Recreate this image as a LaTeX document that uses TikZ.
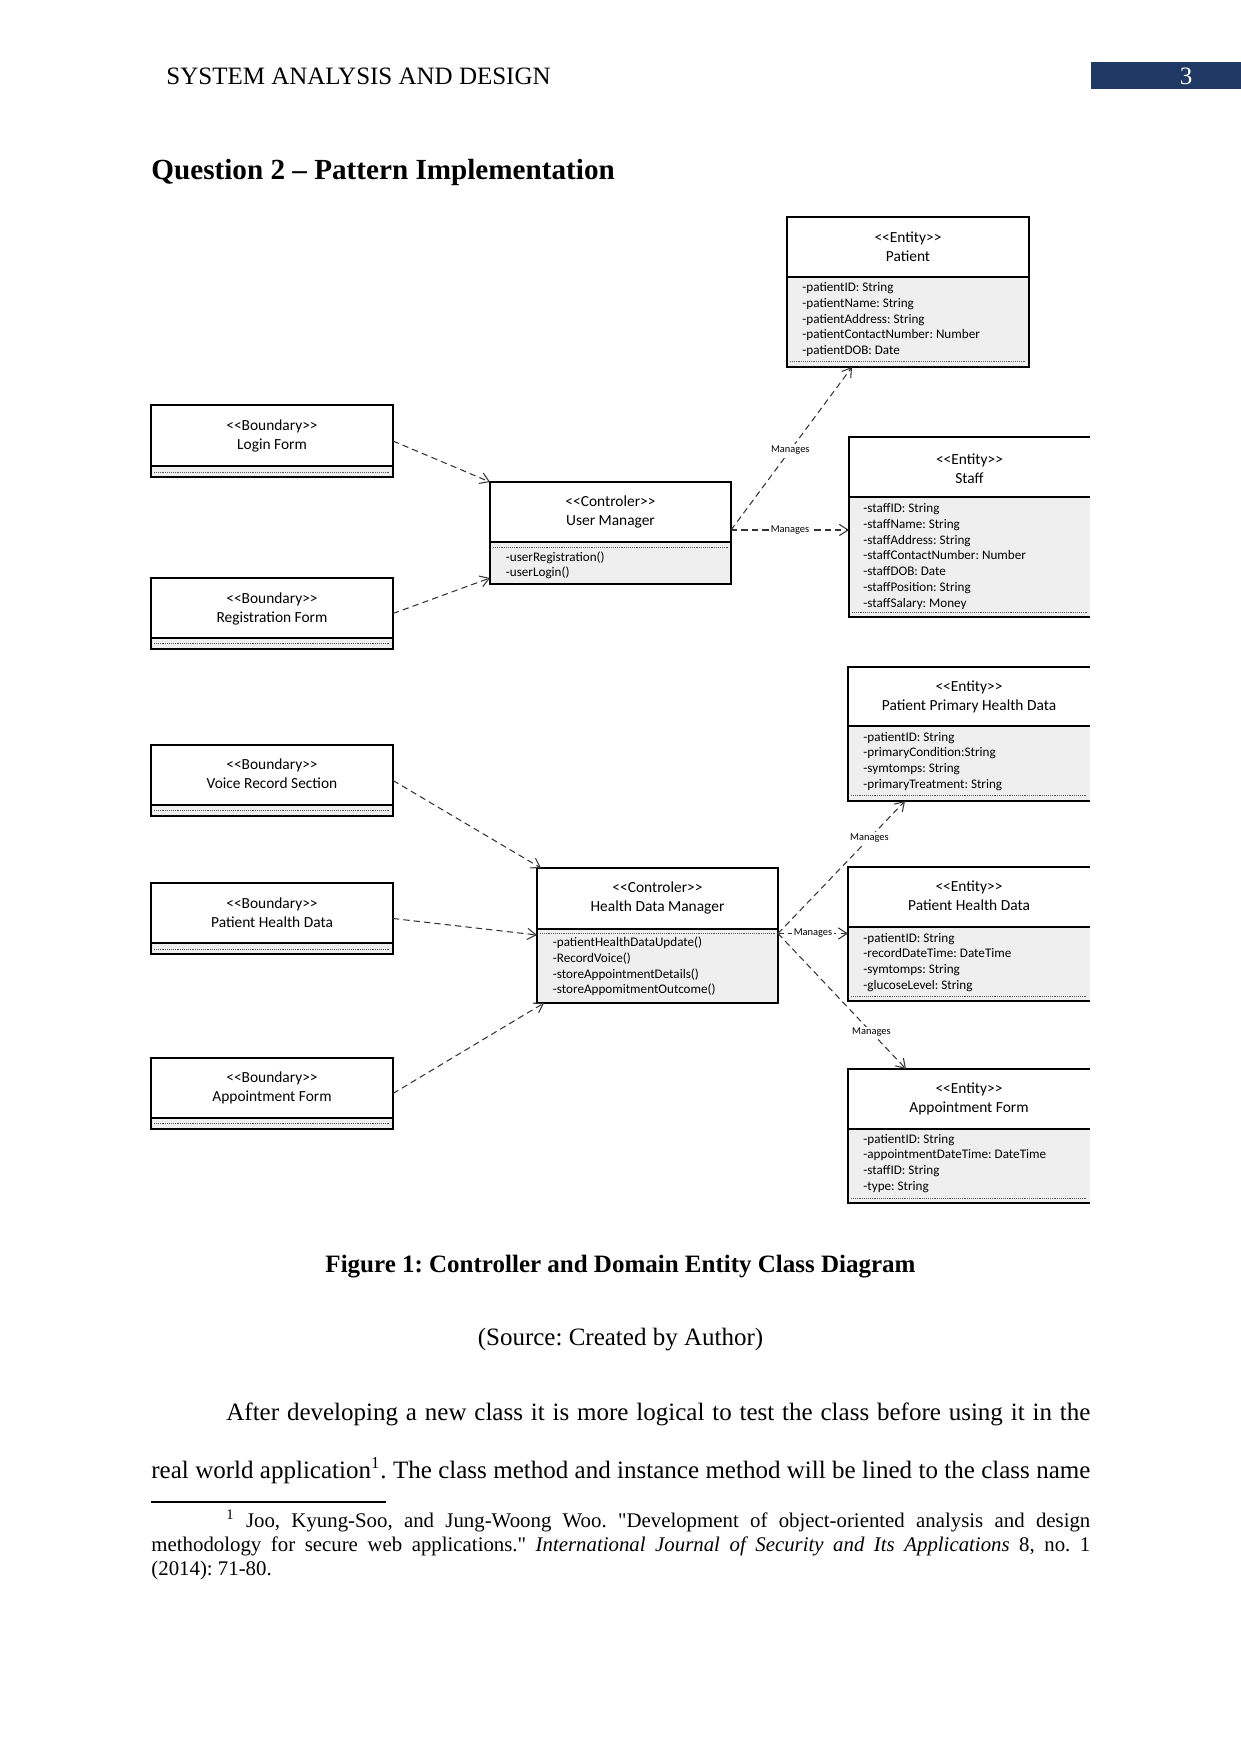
\documentclass[tikz,border=0pt]{standalone}
\usepackage{fontspec}
\setmainfont{Liberation Serif}
\newfontfamily\umlfont{Carlito}
\usetikzlibrary{arrows.meta,calc}
\definecolor{navy}{HTML}{1F3864}
\definecolor{compgray}{HTML}{EFEFEF}
\tikzset{
  classnode/.style={inner sep=0pt, outer sep=0pt},
  boxln/.style={draw=black, line width=0.55pt},
  dotln/.style={draw=black!65, line width=0.45pt, dash pattern=on 0.45pt off 0.45pt},
  dep/.style={draw=black!80, line width=0.5pt, dash pattern=on 3pt off 2pt,
    -{Straight Barb[length=4.2pt,width=5.4pt,line width=0.5pt]}},
  lbl/.style={font=\umlfont\fontsize{5}{6}\selectfont, fill=white, inner sep=0.7pt},
  hdr/.style={font=\umlfont\fontsize{7.4}{9}\selectfont, inner sep=0pt, anchor=base},
  attr/.style={font=\umlfont\fontsize{6.3}{7.6}\selectfont, inner sep=0pt, anchor=base west},
  pagetxt/.style={font=\fontsize{12}{14}\selectfont, inner sep=0pt},
  foottxt/.style={font=\fontsize{10}{11.5}\selectfont, inner sep=0pt, anchor=base west}
}
% #1 name, #2 x1, #3 y1, #4 x2, #5 y2, #6 divider y, #7 dotted y
\newcommand\umlbox[7]{%
  \node[classnode, minimum width={(#4-#2)*0.48pt}, minimum height={(#5-#3)*0.48pt}, anchor=north west] (#1) at (#2,#3) {};
  \fill[compgray] (#2,#6) rectangle (#4,#5);
  \draw[dotln] (#2+3,#7) -- (#4-3,#7);
  \draw[boxln] (#1.north west) rectangle (#1.south east);
  \draw[boxln] (#2,#6) -- (#4,#6);
}
\newcommand\umlboxopen[7]{%
  \node[classnode, minimum width={(#4-#2)*0.48pt}, minimum height={(#5-#3)*0.48pt}, anchor=north west] (#1) at (#2,#3) {};
  \fill[compgray] (#2,#6) rectangle (#4,#5);
  \draw[dotln] (#2+3,#7) -- (#4-3,#7);
  \draw[boxln] (#1.north east) -- (#1.north west) -- (#1.south west) -- (#1.south east);
  \draw[boxln] (#2,#6) -- (#4,#6);
}
% #1 name, #2 x centre, #3 first baseline, #4 line 1, #5 line 2
\newcommand\umlhead[5]{%
  \node[hdr] (#1-s) at (#2,#3) {#4};
  \node[hdr] (#1-n) at (#2,#3+19) {#5};
}
% #1 name, #2 x, #3 first baseline, #4 list
\newcommand\umlattrs[4]{%
  \foreach \t [count=\i] in {#4} {\node[attr] (#1-a\i) at (#2,#3+15.8*\i-15.8) {\t};}
}
\begin{document}
\frenchspacing
\begin{tikzpicture}[x=0.48pt,y=-0.48pt]
\useasboundingbox[fill=white] (0,0) rectangle (1241,1754);

% page header
\node[pagetxt, anchor=base west] (hdrtxt) at (166,84) {SYSTEM ANALYSIS AND DESIGN};
\node[fill=navy, inner sep=0pt, minimum width=150*0.48pt, minimum height=27*0.48pt, anchor=north west] (pgbox) at (1091,62) {};
\node[pagetxt, anchor=base, text=white] (pgno) at (1186,84) {3};
\node[font=\bfseries\fontsize{14}{16}\selectfont, inner sep=0pt, anchor=base west] (q2) at (151,179) {Question 2 – Pattern Implementation};

% ---------- classes ----------
\umlbox{patient}{787}{217}{1029}{367}{277}{361}
\umlhead{patient}{908}{242}{<{}<Entity>{}>}{Patient}
\umlattrs{patient}{802}{291.5}{-patientID: String,-patientName: String,-patientAddress: String,-patientContactNumber: Number,-patientDOB: Date}

\umlbox{login}{151}{405}{393}{477}{466}{472}
\umlhead{login}{272}{430}{<{}<Boundary>{}>}{Login Form}

\umlbox{um}{490}{482}{731}{584}{542}{547}
\umlhead{um}{610.5}{506}{<{}<Controler>{}>}{User Manager}
\umlattrs{um}{505.5}{561}{-userRegistration(),-userLogin()}

\umlboxopen{staff}{849}{437}{1090}{617}{497}{612}
\umlhead{staff}{969.5}{464}{<{}<Entity>{}>}{Staff}
\umlattrs{staff}{863}{512.5}{-staffID: String,-staffName: String,-staffAddress: String,-staffContactNumber: Number,-staffDOB: Date,-staffPosition: String,-staffSalary: Money}

\umlbox{reg}{151}{578}{393}{649}{638}{643}
\umlhead{reg}{272}{603}{<{}<Boundary>{}>}{Registration Form}

\umlboxopen{pphd}{848}{667}{1090}{801}{726}{795}
\umlhead{pphd}{969}{691}{<{}<Entity>{}>}{Patient Primary Health Data}
\umlattrs{pphd}{863}{741}{-patientID: String,-primaryCondition:String,-symtomps: String,-primaryTreatment: String}

\umlbox{voice}{151}{745}{393}{816}{805}{810}
\umlhead{voice}{272}{769}{<{}<Boundary>{}>}{Voice Record Section}

\umlbox{hdm}{537}{868}{778}{1003}{929}{933}
\umlhead{hdm}{657.5}{892}{<{}<Controler>{}>}{Health Data Manager}
\umlattrs{hdm}{552.5}{946.5}{-patientHealthDataUpdate(),-RecordVoice(),-storeAppointmentDetails(),-storeAppomitmentOutcome()}

\umlbox{phdb}{151}{883}{393}{954}{943}{949}
\umlhead{phdb}{272}{908}{<{}<Boundary>{}>}{Patient Health Data}

\umlboxopen{phde}{848}{867}{1090}{1001}{927}{996}
\umlhead{phde}{969}{891}{<{}<Entity>{}>}{Patient Health Data}
\umlattrs{phde}{863}{942}{-patientID: String,-recordDateTime: DateTime,-symtomps: String,-glucoseLevel: String}

\umlbox{apptb}{151}{1058}{393}{1129}{1118}{1123}
\umlhead{apptb}{272}{1082}{<{}<Boundary>{}>}{Appointment Form}

\umlboxopen{appte}{848}{1069}{1090}{1203}{1129}{1198}
\umlhead{appte}{969}{1093}{<{}<Entity>{}>}{Appointment Form}
\umlattrs{appte}{863}{1143}{-patientID: String,-appointmentDateTime: DateTime,-staffID: String,-type: String}

% ---------- connectors ----------
\coordinate (umr) at ($(um.east)+(0,-3)$);
\coordinate (hdmr) at ($(hdm.east)+(0,-2)$);

\draw[dep] (login.east) -- (um.north west);
\draw[dep] (reg.east) -- ($(um.south west)+(0,-6)$);
\draw[dep] (voice.east) -- ($(hdm.north west)+(4,0)$);
\draw[dep] (phdb.east) -- ($(hdm.north west)+(0,67)$);
\draw[dep] (apptb.east) -- ($(hdm.south west)+(7,0)$);

\draw[dep] (umr) -- node[lbl, pos=0.49] (m1) {Manages} ($(patient.south west)+(65,0)$);
\draw[dep] (umr) -- node[lbl, pos=0.5] (m2) {Manages} (staff.west |- umr);
\draw[dep] (hdmr) -- node[lbl, pos=0.72] (m3) {Manages} ($(pphd.south west)+(57,0)$);
\draw[dep] (hdmr) -- node[lbl, pos=0.5] (m4) {Manages} (phde.west |- hdmr);
\draw[dep] (hdmr) -- node[lbl, pos=0.73] (m5) {Manages} ($(appte.north west)+(58,0)$);

% ---------- caption and text ----------
\node[pagetxt, font=\bfseries\fontsize{12}{14}\selectfont, anchor=base] (cap) at (620.5,1272) {Figure 1: Controller and Domain Entity Class Diagram};
\node[pagetxt, anchor=base] (src) at (620.5,1345) {(Source: Created by Author)};
\node[pagetxt, anchor=base west] (p1) at (226,1420) {\makebox[414.7pt][s]{After developing a new class it is more logical to test the class before using it in the}};
\node[pagetxt, anchor=base west] (p2) at (151,1478) {\makebox[450.7pt][s]{real world application\textsuperscript{1}. The class method and instance method will be lined to the class name}};

\draw[line width=0.5pt] (151,1502) -- (386,1502);
\node[foottxt] (f1) at (226,1527) {\makebox[414.7pt][s]{\textsuperscript{1} Joo, Kyung-Soo, and Jung-Woong Woo. \textquotedbl Development of object-oriented analysis and design}};
\node[foottxt] (f2) at (151,1551) {\makebox[450.7pt][s]{methodology for secure web applications.\textquotedbl{} \textit{International Journal of Security and Its Applications} 8, no. 1}};
\node[foottxt] (f3) at (151,1575) {(2014): 71-80.};
\end{tikzpicture}
\end{document}
